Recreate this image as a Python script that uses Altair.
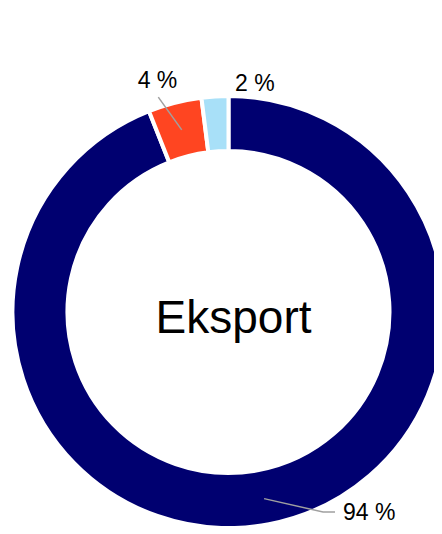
import math
import altair as alt
import pandas as pd

# ---- data ----
categories = ["Kategori A", "Kategori B", "Kategori C"]
values = [94, 4, 2]
labels = ["94 %", "4 %", "2 %"]
center_title = "Eksport"

# ---- styles ----
colors = ["#000070", "#FF4521", "#A8E0F8"]
W, H = 426, 518
CX, CY = 220.5, 304
R_OUT, R_IN, GAP = 214, 163, 4
FONT = "Liberation Sans"
# label placement per slice: angle offset from slice middle (deg), radius, align, dx, dy
label_place = [(-14.5, 221.2, "left", 20, 8), (-3.2, 235, "center", 0, 0), (10.4, 222.6, "center", 0, 0)]
# leader lines per slice: list of (angle offset, radius) points, then horizontal hook length
leader_place = [([(0, 190), (-14.5, 221.2)], 12), ([(0, 188), (-3.7, 226)], 0), None]


def polar(angle_deg, r):
    a = math.radians(angle_deg)
    return CX + r * math.sin(a), CY - r * math.cos(a)


total = sum(values)
mids = []
acc = 0
for v in values:
    mids.append((acc + v / 2) / total * 360)
    acc += v

df = pd.DataFrame({"cat": categories, "value": values, "idx": list(range(len(values)))})

lab_rows = []
line_rows = []
for i, (lab, mid) in enumerate(zip(labels, mids)):
    off, r, align, dx, dy = label_place[i]
    x, y = polar(mid + off, r)
    lab_rows.append({"label": lab, "x": x + dx, "y": y + dy, "align": align})
    lp = leader_place[i]
    if lp:
        pts, hook = lp
        k = 0
        for (o, rr) in pts:
            px, py = polar(mid + o, rr)
            line_rows.append({"seg": i, "k": k, "x": px, "y": py})
            k += 1
        if hook:
            line_rows.append({"seg": i, "k": k, "x": px + hook, "y": py})

lab_df = pd.DataFrame(lab_rows)
line_df = pd.DataFrame(line_rows)

xs = alt.Scale(domain=[0, W], range=[0, W])
ys = alt.Scale(domain=[0, H], range=[0, H])

arc = alt.Chart(df).mark_arc(
    outerRadius=R_OUT + GAP / 2, innerRadius=R_IN - GAP / 2, stroke="white", strokeWidth=GAP
).encode(
    theta=alt.Theta("value:Q", stack=True),
    color=alt.Color("cat:N", scale=alt.Scale(domain=categories, range=colors), legend=None),
    order=alt.Order("idx:Q"),
    x=alt.value(CX),
    y=alt.value(CY),
)

lines = alt.Chart(line_df).mark_line(color="#A0A0A0", strokeWidth=1.5).encode(
    x=alt.X("x:Q", scale=xs, axis=None),
    y=alt.Y("y:Q", scale=ys, axis=None),
    detail="seg:N",
    order="k:Q",
)

left_labels = alt.Chart(lab_df[lab_df["align"] == "left"]).mark_text(
    align="left", baseline="alphabetic", fontSize=23, font=FONT, color="black"
).encode(x=alt.X("x:Q", scale=xs, axis=None), y=alt.Y("y:Q", scale=ys, axis=None), text="label:N")

center_labels = alt.Chart(lab_df[lab_df["align"] == "center"]).mark_text(
    align="center", baseline="alphabetic", fontSize=23, font=FONT, color="black"
).encode(x=alt.X("x:Q", scale=xs, axis=None), y=alt.Y("y:Q", scale=ys, axis=None), text="label:N")

title = alt.Chart(pd.DataFrame({"t": [center_title]})).mark_text(
    align="center", baseline="alphabetic", fontSize=46, font=FONT, color="black"
).encode(x=alt.value(CX + 5), y=alt.value(CY + 21), text="t:N")

chart = alt.layer(arc, lines, left_labels, center_labels, title).properties(
    width=W, height=H, padding=0, autosize=alt.AutoSizeParams(type="none")
).configure_view(stroke=None)

chart.save("out.html", embed_options={"renderer": "svg", "actions": False})
